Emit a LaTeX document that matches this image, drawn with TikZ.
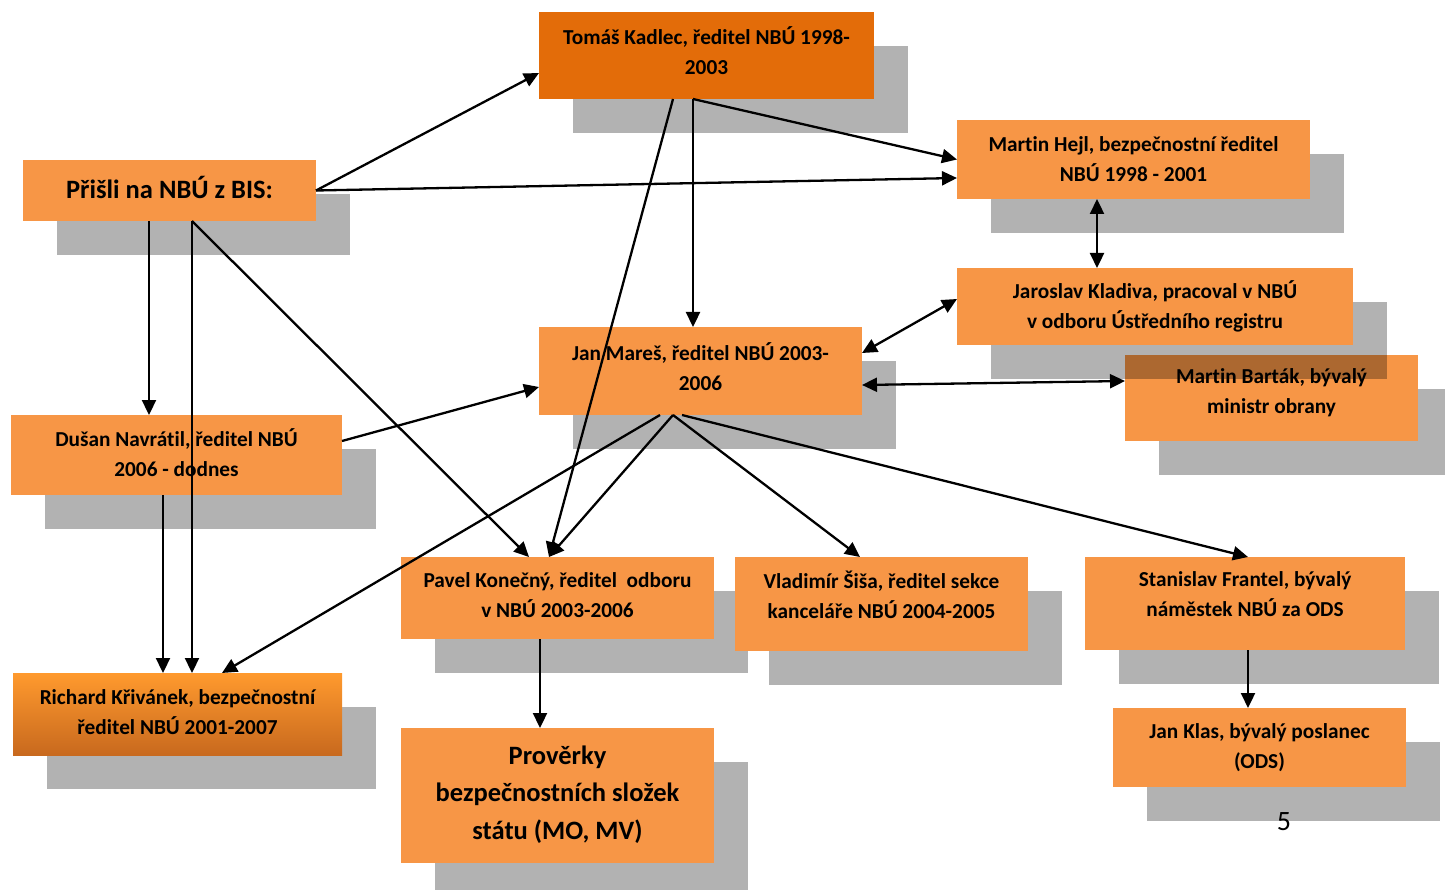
\documentclass[tikz,border=0pt]{standalone}
\usepackage{fontspec}
\setmainfont[Ligatures=NoCommon]{Carlito}
\usetikzlibrary{calc}
\usetikzlibrary{shadows}
\usetikzlibrary{arrows.meta}

\definecolor{nbuorange}{RGB}{247,150,70}
\definecolor{nbudark}{RGB}{227,108,9}
\definecolor{nbutop}{RGB}{255,154,46}
\definecolor{nbubot}{RGB}{200,105,30}

\begin{document}
\begin{tikzpicture}[x=1pt,y=-1pt,
    box/.style={fill=nbuorange, anchor=north west, inner sep=0pt, outer sep=0pt,
        general shadow={fill=black, opacity=0.3, shadow xshift=34pt, shadow yshift=-34pt}},
    sz/.style 2 args={minimum width=#1pt, minimum height=#2pt},
    txt/.style={font=\bfseries\fontsize{21.3}{30}\selectfont, align=center, inner sep=0pt},
    arr/.style={line width=2.3pt, -{Triangle[length=15pt,width=14pt]}},
    dbl/.style={line width=2.3pt, {Triangle[length=15pt,width=14pt]}-{Triangle[length=15pt,width=14pt]}}]
        \useasboundingbox (0,0) rectangle (1445,890);

        \node[box, sz={335}{87}, fill=nbudark] (kadlec) at (539,12) {};
        \node[txt] (kadlec-t) at ([yshift=5pt]kadlec.center) {Tomáš Kadlec, ředitel NBÚ 1998-\\2003};
        \node[box, sz={293}{61}] (bis) at (23,160) {};
        \node[txt, font=\bfseries\fontsize{26.5}{30}\selectfont] (bis-t) at ([yshift=3pt]bis.center) {Přišli na NBÚ z BIS:};
        \node[box, sz={353}{79}] (hejl) at (957,120) {};
        \node[txt] (hejl-t) at (hejl.center) {Martin Hejl, bezpečnostní ředitel\\NBÚ 1998 - 2001};
        \node[box, sz={293}{86}] (bartak) at (1125,355) {};
        \node[txt] (bartak-t) at ([yshift=5pt]bartak.center) {Martin Barták, bývalý\\ministr obrany};
        \node[box, sz={396}{77}] (kladiva) at (957,268) {};
        \node[txt] (kladiva-t) at (kladiva.center) {Jaroslav Kladiva, pracoval v NBÚ\\v odboru Ústředního registru};
        \node[box, sz={323}{88}] (mares) at (539,327) {};
        \node[txt] (mares-t) at ([yshift=4pt]mares.center) {Jan Mareš, ředitel NBÚ 2003-\\2006};
        \node[box, sz={331}{80}] (navratil) at (11,415) {};
        \node[txt] (navratil-t) at ([yshift=2pt]navratil.center) {Dušan Navrátil, ředitel NBÚ\\2006 - dodnes};
        \node[box, sz={313}{82}] (konecny) at (401,557) {};
        \node[txt] (konecny-t) at ([yshift=3pt]konecny.center) {Pavel Konečný, ředitel\ \ odboru\\v NBÚ 2003-2006};
        \node[box, sz={293}{94}] (sisa) at (735,557) {};
        \node[txt] (sisa-t) at ([yshift=9pt]sisa.center) {Vladimír Šiša, ředitel sekce\\kanceláře NBÚ 2004-2005};
        \node[box, sz={320}{93}] (frantel) at (1085,557) {};
        \node[txt] (frantel-t) at ([yshift=9pt]frantel.center) {Stanislav Frantel, bývalý\\náměstek NBÚ za ODS};
        \node[box, sz={329}{82}, top color=nbutop, bottom color=nbubot] (krivanek) at (13,673) {};
        \node[txt] (krivanek-t) at ([yshift=2pt]krivanek.center) {Richard Křivánek, bezpečnostní\\ředitel NBÚ 2001-2007};
        \node[box, sz={313}{135}] (proverky) at (401,728) {};
        \node[txt, font=\bfseries\fontsize{26.5}{37.5}\selectfont] (proverky-t) at ([yshift=1pt]proverky.center) {Prověrky\\bezpečnostních složek\\státu (MO, MV)};
        \node[box, sz={293}{79}] (klas) at (1113,708) {};
        \node[txt] (klas-t) at (klas.center) {Jan Klas, bývalý poslanec\\(ODS)};

        \draw[arr] (bis.east) -- ($(kadlec.north west)+(0,61)$);
        \draw[arr] (bis.east) -- ($(hejl.north west)+(0,58)$);
        \draw[arr] ($(bis.south west)+(126,0)$) -- ($(navratil.north west)+(138,0)$);
        \draw[arr] ($(bis.south west)+(169,0)$) -- ($(krivanek.north west)+(179,0)$);
        \draw[arr] ($(bis.south west)+(169,0)$) -- ($(konecny.north west)+(128,0)$);
        \draw[arr] ($(kadlec.south west)+(154,0)$) -- ($(mares.north west)+(154,0)$);
        \draw[arr] ($(kadlec.south west)+(154,0)$) -- (hejl.west);
        \draw[arr] ($(kadlec.south west)+(134,0)$) -- ($(konecny.north west)+(148,0)$);
        \draw[dbl] ($(hejl.south west)+(140,0)$) -- ($(kladiva.north west)+(140,0)$);
        \draw[dbl] ($(kladiva.north west)+(0,31)$) -- ($(mares.north east)+(0,26)$);
        \draw[dbl] ($(mares.north east)+(0,58)$) -- ($(bartak.north west)+(0,26)$);
        \draw[arr] ($(navratil.north east)+(0,26)$) -- ($(mares.north west)+(0,60)$);
        \draw[arr] ($(navratil.south west)+(152,0)$) -- ($(krivanek.north west)+(150,0)$);
        \draw[arr] ($(mares.south west)+(121,0)$) -- ($(krivanek.north west)+(209,0)$);
        \draw[arr] ($(mares.south west)+(134,0)$) -- ($(konecny.north west)+(148,0)$);
        \draw[arr] ($(mares.south west)+(134,0)$) -- ($(sisa.north west)+(125,0)$);
        \draw[arr] ($(mares.south west)+(143,0)$) -- ($(frantel.north west)+(163,0)$);
        \draw[arr] ($(konecny.south west)+(139,0)$) -- ($(proverky.north west)+(139,0)$);
        \draw[arr] ($(frantel.south west)+(163,0)$) -- ($(klas.north west)+(135,0)$);

        \node[font=\fontsize{28}{30}\selectfont, inner sep=0pt] (pagenum) at (1284,822) {5};
    \end{tikzpicture}
\end{document}
